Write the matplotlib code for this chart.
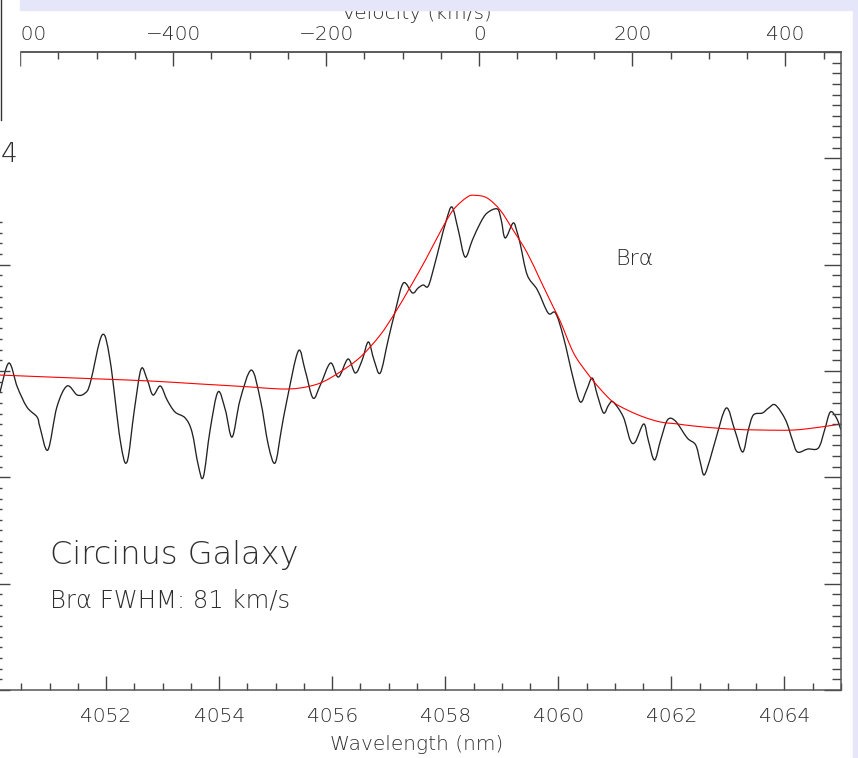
import matplotlib
matplotlib.use("Agg")
import matplotlib.pyplot as plt
import numpy as np
from matplotlib.ticker import MultipleLocator, FixedLocator
from matplotlib.patches import Rectangle, PathPatch
from matplotlib.path import Path
from matplotlib.lines import Line2D

# spectrum of Circinus around Br-alpha
wave = [4050.12, 4050.28, 4050.43, 4050.60, 4050.78, 4050.83, 4050.97, 4051.13, 4051.31, 4051.49,
        4051.63, 4051.72, 4051.93, 4052.07, 4052.25, 4052.37, 4052.50, 4052.62, 4052.73, 4052.83,
        4052.96, 4053.08, 4053.22, 4053.40, 4053.52, 4053.63, 4053.72, 4053.84, 4053.98, 4054.11,
        4054.23, 4054.37, 4054.57, 4054.73, 4054.87, 4054.99, 4055.10, 4055.20, 4055.40, 4055.52,
        4055.66, 4055.79, 4055.97, 4056.11, 4056.28, 4056.41, 4056.53, 4056.64, 4056.74, 4056.85,
        4056.99, 4057.12, 4057.26, 4057.42, 4057.52, 4057.61, 4057.70, 4057.81, 4057.91, 4058.02,
        4058.12, 4058.23, 4058.35, 4058.48, 4058.62, 4058.74, 4058.92, 4058.99, 4059.06, 4059.20,
        4059.27, 4059.33, 4059.45, 4059.63, 4059.82, 4059.95, 4060.09, 4060.27, 4060.39, 4060.50,
        4060.60, 4060.69, 4060.80, 4060.89, 4060.97, 4061.15, 4061.27, 4061.36, 4061.51, 4061.59,
        4061.70, 4061.81, 4061.93, 4062.07, 4062.28, 4062.43, 4062.51, 4062.58, 4062.69, 4062.78,
        4062.97, 4063.12, 4063.26, 4063.36, 4063.45, 4063.61, 4063.72, 4063.84, 4064.02, 4064.14,
        4064.23, 4064.41, 4064.60, 4064.71, 4064.81, 4064.92, 4065.00]
flux = [1.1793, 1.2075, 1.1850, 1.1661, 1.1567, 1.1473, 1.1257, 1.1661, 1.1859, 1.1774,
        1.1793, 1.1887, 1.2339, 1.2103, 1.1351, 1.1144, 1.1633, 1.2019, 1.1915, 1.1774,
        1.1859, 1.1727, 1.1614, 1.1558, 1.1426, 1.1116, 1.1003, 1.1445, 1.1803, 1.1633,
        1.1379, 1.1727, 1.2009, 1.1727, 1.1304, 1.1135, 1.1445, 1.1727, 1.2188, 1.2009,
        1.1746, 1.1868, 1.2075, 1.1943, 1.2113, 1.1981, 1.2103, 1.2273, 1.2103, 1.1981,
        1.2292, 1.2574, 1.2828, 1.2734, 1.2781, 1.2809, 1.2799, 1.2997, 1.3204, 1.3420,
        1.3542, 1.3326, 1.3072, 1.3232, 1.3392, 1.3486, 1.3524, 1.3420, 1.3251, 1.3392,
        1.3307, 1.3185, 1.2903, 1.2762, 1.2545, 1.2545, 1.2320, 1.1915, 1.1708, 1.1821,
        1.1934, 1.1774, 1.1605, 1.1680, 1.1708, 1.1567, 1.1351, 1.1332, 1.1502, 1.1351,
        1.1163, 1.1351, 1.1539, 1.1530, 1.1370, 1.1304, 1.1144, 1.1022, 1.1182, 1.1351,
        1.1652, 1.1445, 1.1238, 1.1445, 1.1586, 1.1605, 1.1652, 1.1680, 1.1539, 1.1351,
        1.1238, 1.1266, 1.1276, 1.1445, 1.1614, 1.1558, 1.1445]

# gaussian fit (red)
fit_wave = [4050.12, 4051.01, 4051.89, 4052.78, 4053.66, 4054.55, 4055.08, 4055.43, 4055.79, 4056.14,
            4056.50, 4056.85, 4057.12, 4057.38, 4057.65, 4057.91, 4058.14, 4058.39, 4058.53, 4058.74,
            4058.97, 4059.20, 4059.45, 4059.68, 4059.91, 4060.04, 4060.27, 4060.51, 4060.74, 4060.97,
            4061.22, 4061.51, 4061.81, 4062.11, 4062.39, 4063.00, 4063.58, 4064.16, 4064.64, 4065.00]
fit_flux = [1.1962, 1.1943, 1.1925, 1.1906, 1.1878, 1.1850, 1.1831, 1.1840, 1.1887, 1.1991,
            1.2132, 1.2339, 1.2555, 1.2790, 1.3044, 1.3307, 1.3514, 1.3636, 1.3652, 1.3627,
            1.3514, 1.3326, 1.3110, 1.2856, 1.2602, 1.2461, 1.2169, 1.1981, 1.1831, 1.1708,
            1.1633, 1.1567, 1.1520, 1.1502, 1.1483, 1.1455, 1.1445, 1.1445, 1.1473, 1.1502]

wave_ticks = [4052, 4054, 4056, 4058, 4060, 4062, 4064]
lam0 = 4058.6
c_kms = 299792.458

plt.rcParams["font.family"] = ["DejaVu Sans"]
plt.rcParams["font.weight"] = "light"
plt.rcParams["axes.labelweight"] = "light"
txt = "#2e2e2e"


def smooth_path(x, y):
    # catmull-rom through the points, drawn as cubic bezier segments
    p = np.column_stack([x, y])
    pp = np.vstack([p[0], p, p[-1]])
    verts = [p[0]]
    codes = [Path.MOVETO]
    for i in range(1, len(pp) - 2):
        c1 = pp[i] + (pp[i + 1] - pp[i - 1]) / 6
        c2 = pp[i + 1] - (pp[i + 2] - pp[i]) / 6
        verts += [c1, c2, pp[i + 1]]
        codes += [Path.CURVE4] * 3
    return Path(verts, codes)


W, H = 858, 758
fig = plt.figure(figsize=(W / 100, H / 100), dpi=100)
ax = fig.add_axes([-7 / W, (H - 690) / H, 848 / W, 638 / H])

ax.add_patch(PathPatch(smooth_path(wave, flux), facecolor="none", edgecolor="#222222", lw=0.95))
ax.add_patch(PathPatch(smooth_path(fit_wave, fit_flux), facecolor="none", edgecolor="red", lw=0.8))

ax.set_xlim(4050.0, 4065.0)
ax.set_ylim(0.9, 1.5)
ax.xaxis.set_major_locator(FixedLocator(wave_ticks))
ax.xaxis.set_minor_locator(MultipleLocator(0.5))
ax.yaxis.set_major_locator(MultipleLocator(0.1))
ax.yaxis.set_minor_locator(MultipleLocator(0.01))
ax.tick_params(axis="x", which="both", direction="in", top=False, colors="#444444",
               labelcolor=txt, labelsize=14.5, pad=12)
ax.tick_params(axis="x", which="major", length=10, width=1)
ax.tick_params(axis="x", which="minor", length=5, width=1)
ax.tick_params(axis="y", which="both", direction="in", left=True, right=True,
               colors="#444444", labelleft=False)
ax.tick_params(axis="y", which="major", length=12, width=1)
ax.tick_params(axis="y", which="minor", length=6.5, width=1)
for s in ax.spines.values():
    s.set_color("#555555")
    s.set_linewidth(1.1)
ax.set_xlabel("Wavelength (nm)", fontsize=14.5, color=txt, labelpad=7)

def to_vel(lam):
    return (lam - lam0) / lam0 * c_kms

def to_lam(v):
    return lam0 + v / c_kms * lam0

top = ax.secondary_xaxis("top", functions=(to_vel, to_lam))
top.xaxis.set_major_locator(MultipleLocator(200))
top.xaxis.set_minor_locator(MultipleLocator(50))
top.tick_params(which="both", direction="in", colors="#444444", labelcolor=txt,
                labelsize=14.5, pad=6)
top.tick_params(which="major", length=10, width=1)
top.tick_params(which="minor", length=5, width=1)
top.spines["top"].set_color("#555555")
top.spines["top"].set_linewidth(1.1)
top.set_xlabel("Velocity (km/s)", fontsize=14.5, color=txt, labelpad=4)

fig.text(615 / W, 1 - 265 / H, "Brα", fontsize=16, color=txt, va="baseline")
fig.text(50 / W, 1 - 564 / H, "Circinus Galaxy", fontsize=23, color=txt, va="baseline")
fig.text(50 / W, 1 - 607 / H, "Brα FWHM: 81 km/s", fontsize=17.5, color=txt, va="baseline")

# neighbouring panel covering the top-left corner
fig.add_artist(Rectangle((0, 1 - 218 / H), 19 / W, 218 / H, transform=fig.transFigure,
                         color="white", zorder=9))
fig.add_artist(Line2D([1 / W, 1 / W], [1, 1 - 120 / H], color="#333333", lw=1, zorder=11))
fig.text(17 / W, 1 - 162 / H, "4", fontsize=19, color=txt, va="baseline", ha="right", zorder=11)

# lavender page border
fig.add_artist(Rectangle((20 / W, 1 - 10 / H), 1, 10 / H, transform=fig.transFigure,
                         color="#e6e6fa", zorder=10))
fig.add_artist(Rectangle((853 / W, 0), 5 / W, 1, transform=fig.transFigure,
                         color="#e6e6fa", zorder=10))

fig.savefig("out.png", dpi=100)
